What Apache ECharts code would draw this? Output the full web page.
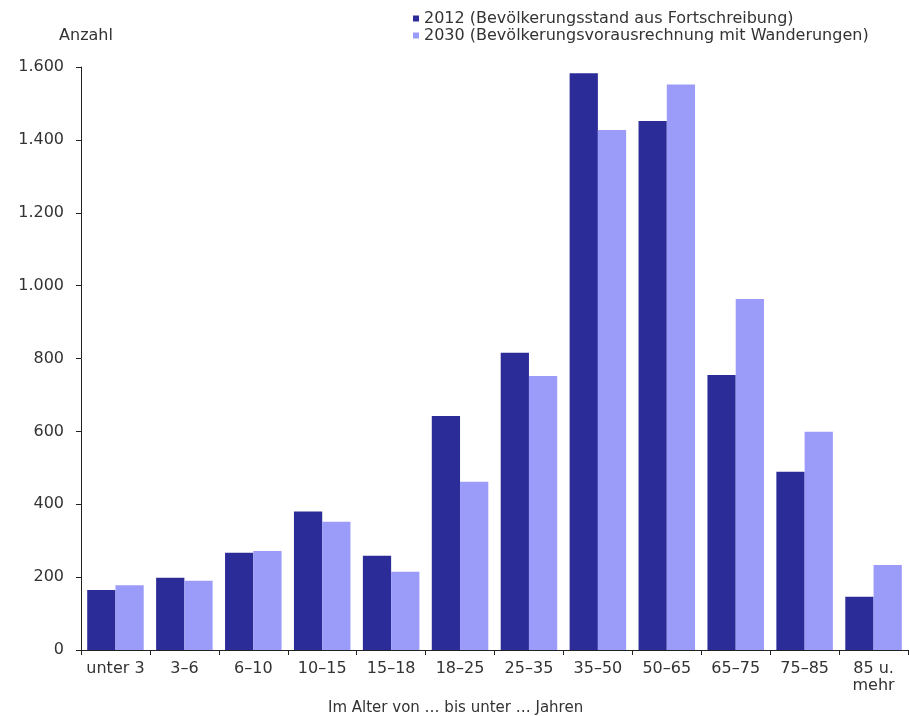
<!DOCTYPE html>
<html>
<head>
<meta charset="utf-8">
<script src="https://cdn.jsdelivr.net/npm/echarts@6/dist/echarts.min.js"></script>
<style>
  html, body { margin: 0; padding: 0; background: #ffffff; }
  #chart { width: 909px; height: 716px; }
</style>
</head>
<body>
<div id="chart"></div>
<script>
// Altersgruppen (Kategorien der x-Achse)
const ageGroups = ['unter 3', '3–6', '6–10', '10–15', '15–18', '18–25', '25–35', '35–50', '50–65', '65–75', '75–85', '85 u.\nmehr'];

// Bevölkerungsstand 2012 (Fortschreibung)
const values2012 = [165, 198, 267, 380, 259, 642, 816, 1583, 1452, 755, 489, 146];

// Vorausrechnung 2030 mit Wanderungen
const values2030 = [178, 190, 272, 352, 215, 462, 752, 1427, 1552, 963, 599, 233];

const seriesNames = [
  '2012 (Bevölkerungsstand aus Fortschreibung)',
  '2030 (Bevölkerungsvorausrechnung mit Wanderungen)'
];

const yTicks = { min: 0, max: 1600, step: 200 };

const FONT = 'DejaVu Sans, Verdana, sans-serif';
const TEXT = '#333333';
const AXIS = '#222222';

const chart = echarts.init(document.getElementById('chart'), null, { renderer: 'canvas' });

chart.setOption({
  backgroundColor: '#ffffff',
  animation: false,
  textStyle: { fontFamily: FONT },
  legend: {
    orient: 'vertical',
    left: 408,
    top: 5,
    itemWidth: 6,
    itemHeight: 6,
    itemGap: 0,
    icon: 'rect',
    textStyle: { fontFamily: FONT, fontSize: 16, color: TEXT, lineHeight: 17 },
    data: seriesNames
  },
  grid: { left: 81, right: 1, top: 67, bottom: 66, containLabel: false },
  xAxis: {
    type: 'category',
    data: ageGroups,
    boundaryGap: true,
    axisLine: { show: true, lineStyle: { color: AXIS, width: 1 } },
    axisTick: { show: true, length: 5, inside: false, lineStyle: { color: AXIS } },
    axisLabel: {
      interval: 0,
      margin: 10,
      fontFamily: FONT,
      fontSize: 16,
      lineHeight: 17,
      color: TEXT
    },
    splitLine: { show: false }
  },
  yAxis: {
    type: 'value',
    min: yTicks.min,
    max: yTicks.max,
    interval: yTicks.step,
    name: 'Anzahl',
    nameLocation: 'end',
    nameGap: 23,
    nameTextStyle: { fontFamily: FONT, fontSize: 16, color: TEXT, align: 'center', padding: [0, 0, 0, 10] },
    axisLine: { show: true, lineStyle: { color: AXIS, width: 1 } },
    axisTick: { show: true, length: 5, inside: false, lineStyle: { color: AXIS } },
    axisLabel: {
      margin: 17,
      fontFamily: FONT,
      fontSize: 16,
      color: TEXT,
      formatter: v => String(v).replace(/\B(?=(\d{3})+(?!\d))/g, '.')
    },
    splitLine: { show: false }
  },
  graphic: [{
    type: 'text',
    left: 328,
    top: 701,
    style: {
      text: 'Im Alter von … bis unter … Jahren',
      font: '15px ' + FONT,
      fill: TEXT
    }
  }],
  series: [
    {
      name: seriesNames[0],
      type: 'bar',
      data: values2012,
      barGap: '0%',
      barCategoryGap: '18%',
      itemStyle: { color: '#2c2c98' }
    },
    {
      name: seriesNames[1],
      type: 'bar',
      data: values2030,
      barGap: '0%',
      barCategoryGap: '18%',
      itemStyle: { color: '#9b9bfa' }
    }
  ]
});
</script>
</body>
</html>
